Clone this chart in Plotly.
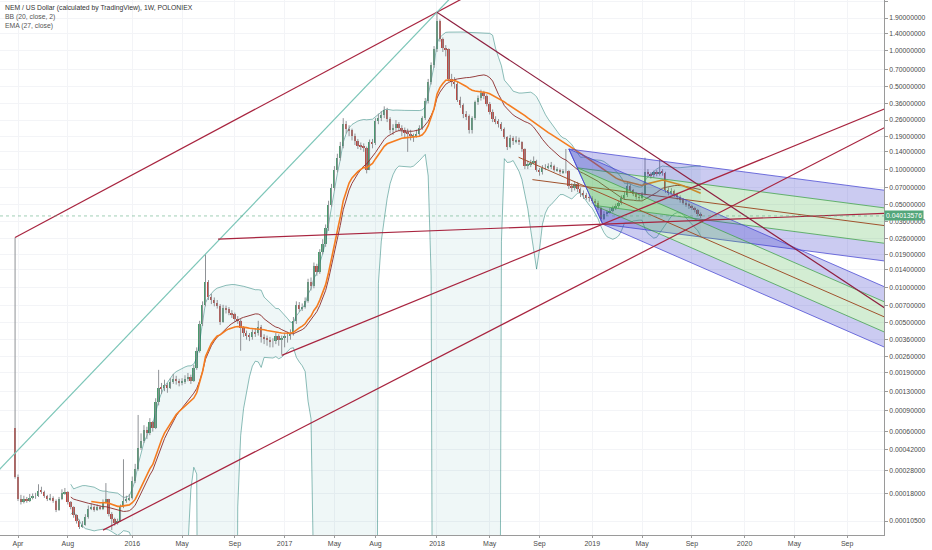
import numpy as np
import pandas as pd
import plotly.graph_objects as go

# NEM / USD weekly candles (Poloniex), first bar = week of 2015-03-30
first_week = "2015-03-30"
first_open = 0.00065

closes = [
    0.00025, 0.00016, 0.000151, 0.00016, 0.000156, 0.000165, 0.00017, 0.00017, 0.00019, 0.000185,
    0.00017, 0.00016, 0.000165, 0.000156, 0.00013, 0.00016, 0.00018, 0.000185, 0.000151, 0.000138,
    0.000117, 0.000105, 0.000094, 0.000098, 0.000113, 0.000134, 0.000138, 0.00013, 0.000138, 0.000134,
    0.000151, 0.00016, 0.000121, 0.000109, 0.000102, 0.000105, 0.000138, 0.000156, 0.00016, 0.000165,
    0.00023, 0.00029, 0.00044, 0.0005, 0.00062, 0.00058, 0.00072, 0.00065, 0.00107, 0.00141,
    0.0014, 0.00149, 0.00141, 0.00158, 0.00168, 0.0016, 0.00155, 0.00158, 0.00168, 0.00174,
    0.0016, 0.00207, 0.0029, 0.0049, 0.0071, 0.0111, 0.0083, 0.0078, 0.0073, 0.007,
    0.0051, 0.0067, 0.0065, 0.0061, 0.0059, 0.0054, 0.0052, 0.0045, 0.0041, 0.0039,
    0.0038, 0.0042, 0.0041, 0.0046, 0.0038, 0.0037, 0.0036, 0.0035, 0.0035, 0.0039,
    0.0036, 0.0037, 0.0039, 0.0039, 0.0041, 0.0052, 0.0071, 0.0066, 0.0068, 0.0077,
    0.0111, 0.0102, 0.015, 0.0135, 0.0197, 0.0233, 0.0317, 0.05, 0.069, 0.099,
    0.124, 0.157, 0.24, 0.22, 0.213, 0.19, 0.172, 0.157, 0.155, 0.152,
    0.099, 0.168, 0.165, 0.255, 0.27, 0.288, 0.316, 0.265, 0.213, 0.225,
    0.243, 0.225, 0.213, 0.205, 0.20, 0.19, 0.191, 0.20, 0.225, 0.27,
    0.38, 0.55, 0.76, 1.03, 1.80,
    1.26, 1.05, 1.03, 0.577, 0.55,
    0.527, 0.387, 0.347, 0.29, 0.28, 0.213, 0.27, 0.367, 0.40, 0.44,
    0.417, 0.353, 0.306, 0.265, 0.255, 0.24, 0.22, 0.187, 0.154, 0.184,
    0.172, 0.178, 0.168, 0.148, 0.107, 0.109, 0.113, 0.118, 0.099, 0.094,
    0.103, 0.103, 0.105, 0.107, 0.098, 0.099, 0.094, 0.096, 0.096, 0.072,
    0.069, 0.075, 0.068, 0.063, 0.060, 0.058, 0.057, 0.054, 0.052, 0.047,
    0.038, 0.0417, 0.043, 0.0445, 0.047, 0.049, 0.052, 0.057, 0.060, 0.072,
    0.066, 0.062, 0.058, 0.057, 0.061, 0.094, 0.091, 0.089, 0.094, 0.092,
    0.095, 0.093, 0.066, 0.064, 0.065, 0.061, 0.058, 0.055, 0.052, 0.050,
    0.049, 0.047, 0.045, 0.042, 0.04013576,
]

highs = [
    0.0264, 0.00026, 0.000175, 0.000172, 0.000168, 0.000178, 0.00018, 0.000182, 0.000215, 0.000205,
    0.00019, 0.000175, 0.000178, 0.00017, 0.00016, 0.000168, 0.000195, 0.0002, 0.000188, 0.000155,
    0.00014, 0.00012, 0.000108, 0.000105, 0.00012, 0.000142, 0.000148, 0.000142, 0.000145, 0.000142,
    0.00016, 0.00022, 0.000162, 0.000125, 0.000112, 0.00011, 0.000145, 0.00035, 0.000172, 0.000178,
    0.00025, 0.00032, 0.00083, 0.00058, 0.00068, 0.00066, 0.00078, 0.00074, 0.00115, 0.002,
    0.00155, 0.00165, 0.00155, 0.0017, 0.00185, 0.00178, 0.00168, 0.0017, 0.0018, 0.00188,
    0.00182, 0.0022, 0.0031, 0.0052, 0.0076, 0.0191, 0.0115, 0.0088, 0.0082, 0.0078,
    0.0072, 0.0071, 0.007, 0.0068, 0.0064, 0.0061, 0.0057, 0.0054, 0.0047, 0.0043,
    0.0041, 0.0044, 0.0045, 0.0052, 0.0048, 0.004, 0.0039, 0.0038, 0.0037, 0.0041,
    0.004, 0.0039, 0.0041, 0.0042, 0.0044, 0.0056, 0.0076, 0.0075, 0.0073, 0.0082,
    0.0118, 0.0121, 0.0162, 0.0158, 0.021, 0.0255, 0.034, 0.054, 0.075, 0.106,
    0.135, 0.17, 0.27, 0.255, 0.235, 0.22, 0.2, 0.18, 0.168, 0.165,
    0.155, 0.178, 0.18, 0.27, 0.295, 0.31, 0.34, 0.33, 0.275, 0.24,
    0.26, 0.25, 0.235, 0.225, 0.22, 0.215, 0.2, 0.215, 0.235, 0.28,
    0.4, 0.58, 0.8, 1.1, 2.13,
    1.85, 1.3, 1.12, 1.05, 0.64,
    0.6, 0.55, 0.41, 0.36, 0.31, 0.29, 0.28, 0.38, 0.42, 0.47,
    0.46, 0.43, 0.37, 0.32, 0.28, 0.265, 0.25, 0.225, 0.19, 0.195,
    0.19, 0.19, 0.185, 0.172, 0.15, 0.118, 0.12, 0.128, 0.12, 0.102,
    0.108, 0.11, 0.112, 0.115, 0.109, 0.104, 0.101, 0.1, 0.148, 0.098,
    0.076, 0.079, 0.078, 0.07, 0.066, 0.063, 0.061, 0.059, 0.056, 0.054,
    0.048, 0.044, 0.045, 0.047, 0.049, 0.051, 0.054, 0.06, 0.064, 0.079,
    0.075, 0.068, 0.064, 0.061, 0.064, 0.125, 0.1, 0.094, 0.097, 0.098,
    0.12, 0.1, 0.095, 0.07, 0.069, 0.067, 0.063, 0.06, 0.057, 0.054,
    0.052, 0.05, 0.048, 0.046, 0.043,
]

lows = [
    0.00024, 0.000155, 0.000145, 0.000148, 0.00015, 0.000152, 0.00016, 0.000162, 0.000168, 0.000178,
    0.000165, 0.000155, 0.000156, 0.00015, 0.000125, 0.000128, 0.000158, 0.000175, 0.000145, 0.000132,
    0.000112, 0.0001, 0.00009, 0.000092, 0.000096, 0.00011, 0.00013, 0.000126, 0.000128, 0.00013,
    0.00013, 0.000148, 0.000115, 0.000088, 0.000096, 0.000098, 0.000103, 0.000135, 0.00015, 0.000155,
    0.00016, 0.00022, 0.00028, 0.00042, 0.00048, 0.00052, 0.00056, 0.0006, 0.00063, 0.001,
    0.00125, 0.00132, 0.00128, 0.00138, 0.00152, 0.0015, 0.00145, 0.00148, 0.00152, 0.0016,
    0.00152, 0.00158, 0.002, 0.0028, 0.0047, 0.0069, 0.0078, 0.0072, 0.0069, 0.0066,
    0.0048, 0.005, 0.006, 0.0058, 0.0055, 0.0051, 0.0049, 0.0029, 0.0038, 0.0036,
    0.0035, 0.0036, 0.0038, 0.0039, 0.0034, 0.0033, 0.0032, 0.0031, 0.0031, 0.0033,
    0.0032, 0.0027, 0.0031, 0.0034, 0.0036, 0.0039, 0.0049, 0.0062, 0.0063, 0.0066,
    0.0074, 0.0094, 0.0098, 0.0125, 0.013, 0.019, 0.022, 0.03, 0.048, 0.066,
    0.094, 0.118, 0.15, 0.2, 0.19, 0.175, 0.16, 0.148, 0.145, 0.14,
    0.092, 0.098, 0.15, 0.16, 0.24, 0.255, 0.27, 0.25, 0.2, 0.195,
    0.21, 0.21, 0.19, 0.185, 0.14, 0.175, 0.17, 0.185, 0.19, 0.215,
    0.26, 0.36, 0.52, 0.72, 0.98,
    1.2, 0.98, 0.9, 0.55, 0.5,
    0.48, 0.37, 0.33, 0.27, 0.26, 0.2, 0.2, 0.26, 0.35, 0.38,
    0.39, 0.34, 0.29, 0.25, 0.24, 0.225, 0.21, 0.18, 0.145, 0.15,
    0.16, 0.165, 0.16, 0.14, 0.1, 0.1, 0.104, 0.11, 0.095, 0.088,
    0.09, 0.098, 0.1, 0.1, 0.095, 0.095, 0.09, 0.091, 0.092, 0.068,
    0.064, 0.066, 0.064, 0.058, 0.056, 0.055, 0.053, 0.051, 0.049, 0.045,
    0.036, 0.037, 0.04, 0.042, 0.043, 0.045, 0.047, 0.05, 0.055, 0.058,
    0.063, 0.059, 0.055, 0.054, 0.055, 0.06, 0.086, 0.083, 0.085, 0.087,
    0.088, 0.088, 0.063, 0.06, 0.061, 0.058, 0.055, 0.052, 0.05, 0.048,
    0.046, 0.045, 0.043, 0.04, 0.0385,
]

# right price scale labels and time scale labels
price_ticks = [2.6, 1.9, 1.4, 1.0, 0.7, 0.5, 0.36, 0.26, 0.19, 0.14, 0.10, 0.07, 0.05, 0.036,
               0.026, 0.019, 0.014, 0.010, 0.007, 0.005, 0.0036, 0.0026, 0.0019, 0.0013,
               0.0009, 0.0006, 0.00042, 0.00028, 0.00018, 0.000105]
date_ticks = ["2015-04-06", "2015-08-03", "2016-01-04", "2016-05-02", "2016-09-05",
              "2017-01-02", "2017-05-01", "2017-08-07", "2018-01-01", "2018-05-07",
              "2018-09-03", "2019-01-07", "2019-05-06", "2019-09-02", "2020-01-06",
              "2020-05-04", "2020-09-07"]
date_labels = ["Apr", "Aug", "2016", "May", "Sep", "2017", "May", "Aug", "2018", "May",
               "Sep", "2019", "May", "Sep", "2020", "May", "Sep"]

# drawings: anchor points (date, price)
line_top = [("2015-03-30", 0.0264), ("2018-01-01", 2.13)]
line_teal = [("2016-06-27", 0.0191), ("2018-01-01", 2.13)]
line_2016_low = [("2016-12-26", 0.00265), ("2019-02-01", 0.0342)]
line_2015_low = [("2015-10-26", 0.000088), ("2019-09-23", 0.0355)]
line_flat = [("2016-07-27", 0.0256), ("2019-02-01", 0.0342)]
line_down = [("2018-01-01", 2.13), ("2020-12-05", 0.0067)]
fork_p2 = ("2018-11-12", 0.148)
fork_p3 = ("2019-02-01", 0.0342)
fork_upper_p1 = ("2018-08-17", 0.0815)
fork_lower_p1 = ("2018-07-15", 0.126)

x_start, x_end = "2015-02-22", "2020-12-04"
far_left, far_right = "2015-01-01", "2021-01-15"

# --- series ---
dates = pd.date_range(first_week, periods=len(closes), freq="7D")
c = np.array(closes)
o = np.concatenate([[first_open], c[:-1]])  # weekly open = previous close
h = np.array(highs)
l = np.array(lows)

s = pd.Series(c)
basis = s.rolling(20).mean()
dev = s.rolling(20).std(ddof=0)
upper = basis + 2 * dev
lower = (basis - 2 * dev).clip(lower=1e-9)

ema = np.full(len(c), np.nan)
ema[26] = c[:27].mean()
alpha = 2 / 28
for i in range(27, len(c)):
    ema[i] = alpha * c[i] + (1 - alpha) * ema[i - 1]


def day_num(d):
    return pd.Timestamp(d).value / 8.64e13


def to_date(t):
    return pd.Timestamp(int(t * 8.64e13))


def anchor(p):
    return np.array([day_num(p[0]), np.log10(p[1])])


def ray(pa, pb, t0, t1):
    a, b = anchor(pa), anchor(pb)
    pts = []
    for t in (day_num(t0), day_num(t1)):
        v = a[1] + (b[1] - a[1]) * (t - a[0]) / (b[0] - a[0])
        pts.append((to_date(t), 10 ** v))
    return pts


fig = go.Figure()

# Bollinger band fill + lines
bb = slice(19, None)
fig.add_trace(go.Scatter(x=dates[bb], y=upper[bb], mode="lines",
                         line=dict(color="rgba(5,110,100,0.45)", width=1), hoverinfo="skip"))
fig.add_trace(go.Scatter(x=dates[bb], y=lower[bb], mode="lines", fill="tonexty",
                         fillcolor="rgba(25,140,140,0.07)",
                         line=dict(color="rgba(5,110,100,0.45)", width=1), hoverinfo="skip"))

# wicks
wx, wy = [], []
for d, lo, hi in zip(dates, l, h):
    wx += [d, d, None]
    wy += [lo, hi, None]
fig.add_trace(go.Scatter(x=wx, y=wy, mode="lines", line=dict(color="#8f9296", width=1),
                         hoverinfo="skip"))

# bodies
body_colors = ["#4a9a6d" if cc >= oo else "#c4453e" for oo, cc in zip(o, c)]
fig.add_trace(go.Bar(x=dates, base=np.minimum(o, c), y=np.abs(c - o),
                     width=4.3 * 86400000, marker=dict(color=body_colors, line=dict(width=0)),
                     hoverinfo="skip"))

fig.add_trace(go.Scatter(x=dates[bb], y=basis[bb], mode="lines",
                         line=dict(color="#8b2a2a", width=0.9), hoverinfo="skip"))
fig.add_trace(go.Scatter(x=dates, y=ema, mode="lines",
                         line=dict(color="#f57c1f", width=1.6), hoverinfo="skip"))

# pitchforks
blue_fill, green_fill = "rgba(55,55,200,0.26)", "rgba(70,180,70,0.24)"
blue_line, green_line = "rgba(70,70,210,0.75)", "rgba(60,160,70,0.75)"


def add_pitchfork(p1, p2, p3):
    a, b, cc = anchor(p1), anchor(p2), anchor(p3)
    m = (b + cc) / 2
    d = m - a
    t_end = day_num(far_right)
    levels = [1, 0.5, 0, -0.5, -1]
    seg = {}
    for lev in levels:
        st = b + (cc - b) * (1 - lev) / 2
        en = st + d * (t_end - st[0]) / d[0]
        seg[lev] = (st, en)
    fills = [blue_fill, green_fill, green_fill, blue_fill]
    for k in range(4):
        sa, ea = seg[levels[k]]
        sb, eb = seg[levels[k + 1]]
        poly = [sa, ea, eb, sb, sa]
        fig.add_trace(go.Scatter(x=[to_date(p[0]) for p in poly], y=[10 ** p[1] for p in poly],
                                 mode="lines", fill="toself", fillcolor=fills[k],
                                 line=dict(width=0), hoverinfo="skip"))
    for lev in levels:
        st, en = seg[lev]
        if lev == 0:
            st = a
            col = "#a0522d"
        else:
            col = blue_line if abs(lev) == 1 else green_line
        fig.add_trace(go.Scatter(x=[to_date(st[0]), to_date(en[0])], y=[10 ** st[1], 10 ** en[1]],
                                 mode="lines", line=dict(color=col, width=1), hoverinfo="skip"))
    fig.add_trace(go.Scatter(x=[to_date(b[0]), to_date(cc[0])], y=[10 ** b[1], 10 ** cc[1]],
                             mode="lines", line=dict(color=blue_line, width=1), hoverinfo="skip"))


add_pitchfork(fork_upper_p1, fork_p2, fork_p3)
add_pitchfork(fork_lower_p1, fork_p2, fork_p3)

# trend lines
red = "#a8243f"
trend_lines = [
    (line_top, line_top[0][0], "2018-08-01", red),
    (line_teal, far_left, "2018-04-01", "#7cc6b8"),
    (line_2016_low, line_2016_low[0][0], far_right, red),
    (line_2015_low, line_2015_low[0][0], far_right, red),
    (line_flat, line_flat[0][0], far_right, red),
    (line_down, line_down[0][0], far_right, "#8e1f3f"),
]
for pts, t0, t1, col in trend_lines:
    seg = ray(pts[0], pts[1], t0, t1)
    fig.add_trace(go.Scatter(x=[p[0] for p in seg], y=[p[1] for p in seg], mode="lines",
                             line=dict(color=col, width=1.2), hoverinfo="skip"))

# last price line
fig.add_trace(go.Scatter(x=[x_start, far_right], y=[closes[-1], closes[-1]], mode="lines",
                         line=dict(color="rgba(83,166,122,0.55)", width=1, dash="dot"),
                         hoverinfo="skip"))

font = "Liberation Sans"
fig.update_layout(
    width=932, height=550,
    margin=dict(l=0, r=48, t=0, b=15),
    paper_bgcolor="white", plot_bgcolor="white",
    showlegend=False,
    font=dict(family=font, size=7, color="#4a4a4a"),
    bargap=0,
)
fig.update_xaxes(
    type="date", range=[x_start, x_end],
    tickvals=date_ticks, ticktext=date_labels,
    showgrid=True, gridcolor="#f3f4f7", gridwidth=1,
    showline=True, linecolor="#9a9a9a", linewidth=1,
    ticks="outside", ticklen=2, tickcolor="#9a9a9a",
    tickfont=dict(size=7, color="#4a4a4a"), zeroline=False,
)
fig.update_yaxes(
    type="log", side="right", range=[np.log10(0.00008), np.log10(2.70)],
    tickvals=price_ticks, ticktext=[f"{v:.8f}" for v in price_ticks],
    showgrid=True, gridcolor="#f3f4f7", gridwidth=1,
    showline=True, linecolor="#9a9a9a", linewidth=1,
    ticks="outside", ticklen=3, tickcolor="#9a9a9a",
    tickfont=dict(size=6.8, color="#4a4a4a"), zeroline=False,
)

legend_text = ("<span style='color:#333333'>NEM / US Dollar (calculated by TradingView), 1W, POLONIEX</span>"
               "<br>BB (20, close, 2)<br>EMA (27, close)")
fig.add_annotation(xref="paper", yref="paper", x=0.003, y=0.997,
                   xanchor="left", yanchor="top", align="left", text=legend_text,
                   showarrow=False, font=dict(family=font, size=6.8, color="#555555"))

fig.add_annotation(xref="paper", yref="y", x=1, y=np.log10(closes[-1]),
                   xanchor="left", yanchor="middle", text=f"{closes[-1]:.8f}",
                   showarrow=False, bgcolor="#53a67a", borderpad=1,
                   font=dict(family=font, size=6.8, color="white"))

# the page body has a default 8px margin; drop it so the chart sits at the window corner
fig.write_html("out.html", config={"displayModeBar": False},
               post_script="document.body.style.margin='0';")
